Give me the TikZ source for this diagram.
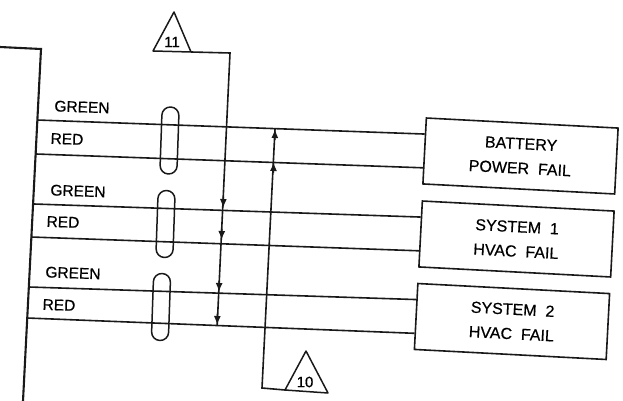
\documentclass[tikz,border=0pt]{standalone}
\usepackage{fontspec}
\setmainfont{Liberation Sans}[FakeBold=0.5]
\usetikzlibrary{calc,arrows.meta}
\tikzset{
  wire/.style={line width=1.6pt,black!90},
  frameline/.style={line width=2.1pt,black!90},
  bus/.style={line width=1.6pt,black!90},
  tip/.style={-{Latex[length=9pt,width=7pt]}},
  wlabel/.style={inner sep=0pt,font=\fontsize{15.5}{16}\selectfont,rotate=-2},
  boxnode/.style={draw,line width=1.6pt,black!90,minimum width=192pt,minimum height=66pt,rotate=-3,inner sep=0pt,align=center,font=\fontsize{16}{24.5}\selectfont,text=black},
  oval/.style={draw,line width=1.5pt,black!90,minimum width=17pt,minimum height=67pt,rounded corners=8.4pt,rotate=-2,inner sep=0pt},
  tri/.style={line width=1.5pt,black!90,line join=round},
  trilabel/.style={inner sep=0pt,font=\fontsize{15}{16}\selectfont}
}
\begin{document}
\begin{tikzpicture}[x=1pt,y=-1pt]
\useasboundingbox (0,0) rectangle (623,401);
% frame
\coordinate (f0) at (0,47);
\coordinate (f1) at (41,49);
\coordinate (f2) at (23,401);
\draw[frameline] (f0) -- (f1) -- (f2);
% boxes
\node[boxnode] (b1) at (520.5,156) {BATTERY\\POWER\ \ FAIL};
\node[boxnode] (b2) at (516.5,239) {SYSTEM\ \ 1\\HVAC\ \ FAIL};
\node[boxnode] (b3) at (512,321.5) {SYSTEM\ \ 2\\HVAC\ \ FAIL};
% wires
\coordinate (g1) at (37,120);
\coordinate (r1) at (36,154);
\coordinate (g2) at (34,204);
\coordinate (r2) at (31,237);
\coordinate (g3) at (29,287);
\coordinate (r3) at (27,318);
\foreach \s/\b/\f in {g1/b1/0.25,r1/b1/0.75,g2/b2/0.25,r2/b2/0.75,g3/b3/0.25,r3/b3/0.75}
  \draw[wire] (\s) -- ($(\b.north west)!\f!(\b.south west)$);
% labels
\node[wlabel] (l1) at (82,107) {GREEN};
\node[wlabel] (l2) at (67,139) {RED};
\node[wlabel] (l3) at (78,191) {GREEN};
\node[wlabel] (l4) at (63,222) {RED};
\node[wlabel] (l5) at (73,273) {GREEN};
\node[wlabel] (l6) at (59,305) {RED};
% ovals
\node[oval] (o1) at (169.5,140.5) {};
\node[oval] (o2) at (165.5,224) {};
\node[oval] (o3) at (161,307) {};
% triangle 11 and its bus
\coordinate (t11a) at (174,12);
\coordinate (t11l) at (153,51);
\coordinate (t11r) at (191,52);
\node[trilabel] (t11) at (172,42) {11};
\draw[tri] (t11l) -- (t11a) -- (t11r) -- cycle;
\coordinate (c11) at (230,53);
\coordinate (a1) at (223.2,208);
\coordinate (a2) at (221.6,240);
\coordinate (a3) at (219,292);
\coordinate (a4) at (217.2,325);
\draw[bus] (t11r) -- (c11) -- (a4);
\foreach \t in {a1,a2,a3,a4}
  \draw[bus,tip] ($(\t)+(0.2,-11)$) -- (\t);
% triangle 10 and its bus
\coordinate (t10a) at (306,351);
\coordinate (t10l) at (285,390);
\coordinate (t10r) at (328,393);
\node[trilabel] (t10) at (305,382) {10};
\draw[tri] (t10l) -- (t10a) -- (t10r) -- cycle;
\coordinate (c10) at (262,388);
\coordinate (u1) at (275,129);
\coordinate (u2) at (273.6,162);
\draw[bus] (t10l) -- (c10) -- (u1);
\draw[bus,tip] ($(u1)+(-0.2,11)$) -- (u1);
\draw[bus,tip] ($(u2)+(-0.2,11)$) -- (u2);
\end{tikzpicture}
\end{document}
